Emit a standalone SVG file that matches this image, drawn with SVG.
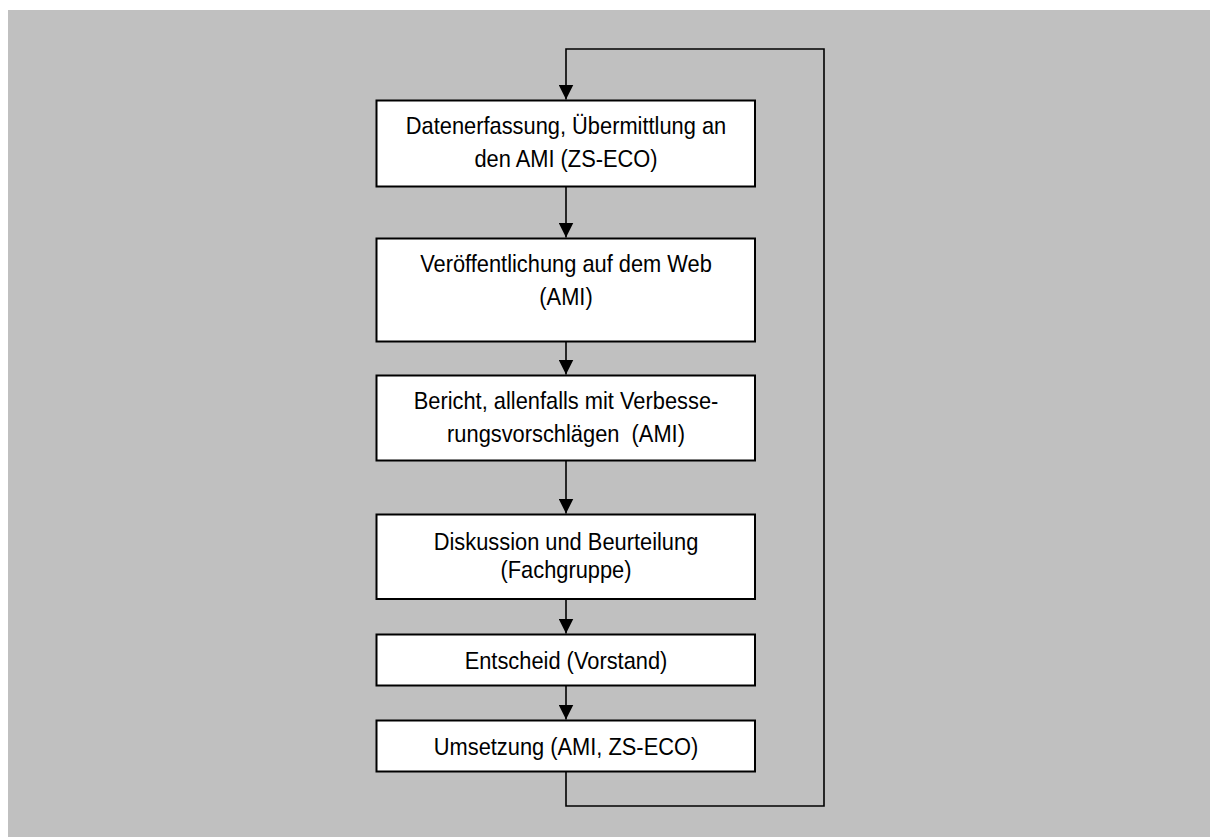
<svg xmlns="http://www.w3.org/2000/svg" width="1210" height="837" viewBox="0 0 1210 837">
<style>
.bg{fill:#C0C0C0}
.box{fill:#FFFFFF;stroke:#000000;stroke-width:2}
.conn{fill:none;stroke:#000000;stroke-width:1.6}
.lbl{font-family:"Liberation Sans",Arial,Helvetica,sans-serif;font-size:24px;fill:#000000;text-anchor:middle}
</style>
<defs>
<marker id="arr" viewBox="0 0 15 15" refX="15" refY="7.5" markerWidth="15" markerHeight="15" markerUnits="userSpaceOnUse" orient="auto">
<path d="M0,0 L15,7.5 L0,15 Z" fill="#000000"/>
</marker>
</defs>
<rect class="bg" x="8" y="10" width="1202" height="827"/>
<g id="connectors">
<line class="conn" x1="566" y1="187" x2="566" y2="237.5" marker-end="url(#arr)"/>
<line class="conn" x1="566" y1="342" x2="566" y2="374.5" marker-end="url(#arr)"/>
<line class="conn" x1="566" y1="461" x2="566" y2="513.5" marker-end="url(#arr)"/>
<line class="conn" x1="566" y1="599.5" x2="566" y2="633.5" marker-end="url(#arr)"/>
<line class="conn" x1="566" y1="686" x2="566" y2="719.5" marker-end="url(#arr)"/>
<path class="conn" d="M566,772 L566,806 L824,806 L824,49 L566,49 L566,99.5" marker-end="url(#arr)"/>
</g>
<g id="n1">
<rect class="box" x="376.5" y="100.5" width="378.5" height="86"/>
<g transform="translate(566,0) scale(0.91,1)">
<text class="lbl" x="0" y="134">Datenerfassung, Übermittlung an</text>
<text class="lbl" x="0" y="167.5">den AMI (ZS-ECO)</text>
</g>
</g>
<g id="n2">
<rect class="box" x="376.5" y="238.5" width="378.5" height="103"/>
<g transform="translate(566,0) scale(0.91,1)">
<text class="lbl" x="0" y="272.5">Veröffentlichung auf dem Web</text>
<text class="lbl" x="0" y="305">(AMI)</text>
</g>
</g>
<g id="n3">
<rect class="box" x="376.5" y="375.5" width="378.5" height="85"/>
<g transform="translate(566,0) scale(0.91,1)">
<text class="lbl" x="0" y="409">Bericht, allenfalls mit Verbesse-</text>
<text class="lbl" x="0" y="442" xml:space="preserve">rungsvorschlägen  (AMI)</text>
</g>
</g>
<g id="n4">
<rect class="box" x="376.5" y="514.5" width="378.5" height="84.5"/>
<g transform="translate(566,0) scale(0.91,1)">
<text class="lbl" x="0" y="550.5">Diskussion und Beurteilung</text>
<text class="lbl" x="0" y="578">(Fachgruppe)</text>
</g>
</g>
<g id="n5">
<rect class="box" x="376.5" y="634.5" width="378.5" height="51"/>
<g transform="translate(566,0) scale(0.91,1)">
<text class="lbl" x="0" y="669">Entscheid (Vorstand)</text>
</g>
</g>
<g id="n6">
<rect class="box" x="376.5" y="720.5" width="378.5" height="51"/>
<g transform="translate(566,0) scale(0.91,1)">
<text class="lbl" x="0" y="755">Umsetzung (AMI, ZS-ECO)</text>
</g>
</g>
</svg>
